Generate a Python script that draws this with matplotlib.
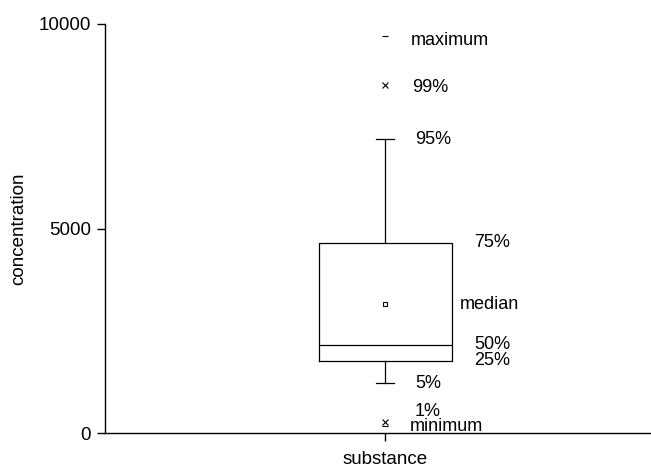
import matplotlib
matplotlib.use("Agg")
import matplotlib.pyplot as plt

plt.rcParams['font.family'] = ['Liberation Sans', 'DejaVu Sans']

category = "substance"
p1, p5, p25, p50, p75, p95, p99 = 270, 1220, 1760, 2150, 4650, 7200, 8500
mean_val = 3150
minimum, maximum = 170, 9700
label_names = ["maximum", "99%", "95%", "75%", "median", "50%", "25%", "5%", "1%", "minimum"]
label_values = [9600, 8450, 7180, 4650, 3150, 2170, 1780, 1220, 520, 150]
yticks = [0, 5000, 10000]

fig = plt.figure(figsize=(6.51, 4.70), dpi=100)
ax = fig.add_axes([105/651, 1-433/470, 545/651, 409/470])

pos = 1.0
stats = [dict(med=p50, q1=p25, q3=p75, whislo=p5, whishi=p95, mean=mean_val, fliers=[])]
lw = 0.9
ax.bxp(stats, positions=[pos], widths=0.475, capwidths=0.064, showmeans=True,
       boxprops=dict(color='black', linewidth=lw),
       whiskerprops=dict(color='black', linewidth=lw),
       capprops=dict(color='black', linewidth=lw),
       medianprops=dict(color='black', linewidth=lw),
       meanprops=dict(marker='s', markerfacecolor='white', markeredgecolor='black',
                      markersize=3.5, markeredgewidth=0.8))
ax.plot([pos, pos], [p99, p1], linestyle='none', marker='x', color='black',
        markersize=4, markeredgewidth=0.8)
ax.plot([pos, pos], [maximum, minimum], linestyle='none', marker='_', color='black',
        markersize=4, markeredgewidth=0.8)

label_x = [1.092, 1.096, 1.106, 1.317, 1.267, 1.317, 1.317, 1.106, 1.106, 1.088]
for name, yv, xv in zip(label_names, label_values, label_x):
    ax.text(xv, yv, name, ha='left', va='center', fontsize=13)

ax.set_xlim(0, 1.945)
ax.set_ylim(0, 10000)
ax.set_yticks(yticks)
ax.set_yticklabels([str(t) for t in yticks], fontsize=13.5)
ax.set_xticks([pos])
ax.set_xticklabels([category], fontsize=13.5)
ax.set_ylabel("concentration", fontsize=13.5, labelpad=8)
for s in ['top', 'right']:
    ax.spines[s].set_visible(False)
for s in ['left', 'bottom']:
    ax.spines[s].set_linewidth(1.0)
ax.tick_params(axis='both', direction='out', length=6, width=1.0, pad=4)
ax.tick_params(axis='x', pad=7)

fig.savefig("out.png", dpi=100)
